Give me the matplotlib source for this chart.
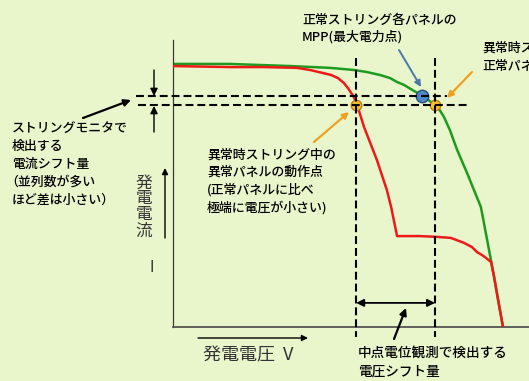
import matplotlib
matplotlib.use('Agg')
import matplotlib.pyplot as plt

plt.rcParams['font.family'] = ['Noto Sans CJK JP', 'DejaVu Sans']

# I-V curves (voltage in % of Voc, current in arbitrary units)
v_normal = [0, 17.3, 35.5, 47.6, 54.8, 58.8, 62.7, 65.8, 67.9, 70.0, 72.1, 75.2,
            79.1, 80.6, 82.1, 83.9, 86.1, 89.1, 91.2, 93.3, 95.2, 97.3, 100]
i_normal = [10.04, 10.04, 9.96, 9.89, 9.81, 9.73, 9.62, 9.50, 9.35, 9.24, 9.08, 8.85,
            8.51, 8.32, 8.02, 7.52, 6.76, 5.88, 5.23, 4.58, 3.32, 1.91, 0]

v_fault = [0, 17.3, 27.6, 37.6, 41.5, 47.9, 50.0, 51.8, 53.0, 54.8, 55.8, 57.9,
           61.8, 64.8, 66.1, 67.9, 74.8, 80.0, 84.2, 88.2, 90.6, 92.1, 93.6,
           94.5, 96.4, 97.3, 98.5, 100]
i_fault = [9.96, 9.92, 9.92, 9.89, 9.81, 9.62, 9.50, 9.31, 9.12, 8.78, 8.47, 7.63,
           6.37, 5.23, 4.58, 3.47, 3.47, 3.44, 3.40, 3.21, 3.05, 2.86, 2.75,
           2.67, 2.48, 1.91, 1.03, 0]

# operating points
mpp = (75.5, 8.82)
op_fault_panel = (55.5, 8.47)
op_normal_panel = (79.4, 8.47)

W, H = 529, 381
bg = '#e9f6cc'


def fp(x, y):
    return (x / W, 1 - y / H)


fig = plt.figure(figsize=(W / 100, H / 100), dpi=100, facecolor=bg)
ax = fig.add_axes([173 / W, 1 - 327 / H, (W - 173) / W, (327 - 40) / H])
ax.set_facecolor('none')
ax.set_xlim(0, 107.88)
ax.set_ylim(0, 10.954)
ax.set_xticks([])
ax.set_yticks([])
for s in ['top', 'right']:
    ax.spines[s].set_visible(False)
ax.spines['left'].set_color('#3a3a3a')
ax.spines['left'].set_linewidth(0.9)
ax.spines['bottom'].set_color('#555555')
ax.spines['bottom'].set_linewidth(1.3)

ax.plot(v_normal, i_normal, color='#1e9a1e', lw=1.8, zorder=2,
        solid_capstyle='butt', solid_joinstyle='round')
ax.plot(v_fault, i_fault, color='#ee1a1a', lw=1.8, zorder=3,
        solid_capstyle='butt', solid_joinstyle='round')

# operating point markers
ax.plot(*mpp, 'o', ms=9, mfc='#4f86c6', mec='#2a4f80', mew=1.0, zorder=4)
for p in (op_fault_panel, op_normal_panel):
    ax.plot(*p, 'o', ms=7.5, mfc='#f2c230', mec='#c07a10', mew=1.0, zorder=4)

dash = (0, (3.8, 1.9))
ax.plot([-11.2, 83.0], [mpp[1]] * 2, color='black', lw=1.5, ls=dash,
        clip_on=False, zorder=5)
ax.plot([-10.6, 89.4], [op_fault_panel[1]] * 2, color='black', lw=1.5, ls=dash,
        clip_on=False, zorder=5)
for v in (op_fault_panel[0], op_normal_panel[0]):
    ax.plot([v, v], [10.27, -0.38], color='black', lw=1.5, ls=dash,
            clip_on=False, zorder=5)

# voltage shift double arrow
ax.annotate('', xy=(op_normal_panel[0], 0.92), xytext=(op_fault_panel[0], 0.92),
            arrowprops=dict(arrowstyle='<|-|>', color='black', lw=1.3,
                            mutation_scale=11, shrinkA=0, shrinkB=0))

# current shift arrows
arr = dict(arrowstyle='-|>', color='black', lw=1.0, mutation_scale=11,
           shrinkA=0, shrinkB=0)
fig.add_artist(matplotlib.patches.FancyArrowPatch(fp(154, 70), fp(154, 96),
               transform=fig.transFigure, **arr))
fig.add_artist(matplotlib.patches.FancyArrowPatch(fp(154, 132), fp(154, 106),
               transform=fig.transFigure, **arr))


# pointer arrows
def pointer(p0, p1, color='black', lw=1.6, ms=10):
    fig.add_artist(matplotlib.patches.FancyArrowPatch(
        fp(*p0), fp(*p1), transform=fig.transFigure, arrowstyle='-|>',
        color=color, lw=lw, mutation_scale=ms, shrinkA=0, shrinkB=0))


pointer((83, 118), (131, 100))
pointer((394, 339), (406, 308))
pointer((472, 72), (447, 98), color='#f0a020', lw=1.6, ms=9)
pointer((314, 142), (349, 112), color='#f0a020', lw=1.6, ms=9)
pointer((399, 50), (421, 87), color='#4a78a8', lw=1.4, ms=9)

# axis label arrows
pointer((165, 238), (165, 168), lw=1.0, ms=9)
pointer((198, 338), (308, 338), lw=1.0, ms=9)


def lines(x, y0, step, texts, size=9.3, color='black', shift=None):
    for k, t in enumerate(texts):
        dx = shift.get(k, 0) if shift else 0
        fig.text(*fp(x + dx, y0 + k * step), t, fontsize=size, color=color,
                 ha='left', va='center', fontweight='medium')


lines(12, 128, 18, ['ストリングモニタで', '検出する', '電流シフト量',
                    '（並列数が多い', 'ほど差は小さい）'], shift={3: -7})
lines(207, 155, 17.5, ['異常時ストリング中の', '異常パネルの動作点',
                       '(正常パネルに比べ', '極端に電圧が小さい)'])
lines(302, 20, 17, ['正常ストリング各パネルの', 'MPP(最大電力点)'])
lines(482, 48, 18.5, ['異常時ストリング中の', '正常パネルの動作点'])
lines(358, 353, 18.5, ['中点電位観測で検出する', '電圧シフト量'], size=9.8)

# axis labels
fig.text(*fp(203, 355), '発電電圧  V', fontsize=13, color='#333333',
         ha='left', va='center')
for k, ch in enumerate('発電電流'):
    fig.text(*fp(144, 183 + k * 16), ch, fontsize=12, color='#333333',
             ha='center', va='center')
fig.text(*fp(152, 268), 'I', fontsize=11, color='#333333',
         ha='center', va='center')

fig.savefig('out.png', dpi=100, facecolor=bg)
